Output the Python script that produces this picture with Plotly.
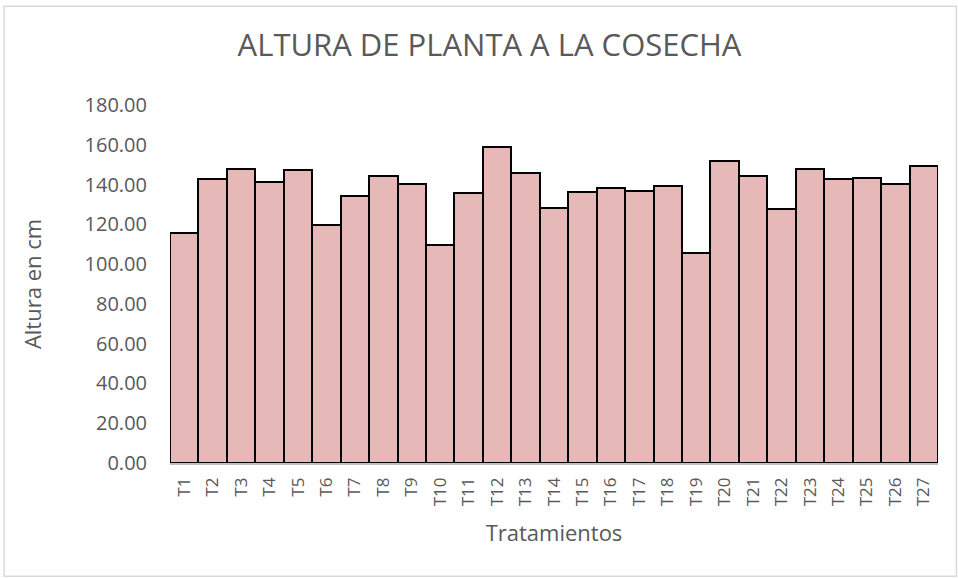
import plotly.graph_objects as go

# Altura de planta a la cosecha por tratamiento (cm)
tratamientos = [f"T{i}" for i in range(1, 28)]
altura_cm = [115.5, 142.8, 147.7, 141.5, 147.2, 119.5, 134.4, 144.5, 140.3,
             109.4, 135.9, 158.8, 145.8, 128.4, 136.3, 138.1, 136.9, 139.4,
             105.7, 151.9, 144.5, 127.7, 148.0, 142.8, 143.2, 140.3, 149.5]
y_ticks = [0, 20, 40, 60, 80, 100, 120, 140, 160, 180]

font_fam = "Open Sans, Liberation Sans, sans-serif"
grey = "#595959"

fig = go.Figure()
fig.add_trace(go.Bar(x=tratamientos, y=altura_cm,
                     marker=dict(color="#E6B8B7", line=dict(color="black", width=2)),
                     hoverinfo="x+y"))

# marco gris claro del área del gráfico
fig.add_shape(type="rect", xref="paper", yref="paper",
              x0=-0.216, x1=1.024, y0=-0.316, y1=1.276,
              line=dict(color="#D9D9D9", width=1.5), fillcolor="rgba(0,0,0,0)", layer="below")

fig.update_layout(
    width=958, height=578,
    margin=dict(l=170, r=20, t=105, b=115, autoexpand=False),
    plot_bgcolor="white", paper_bgcolor="white",
    bargap=0,
    showlegend=False,
    title=dict(text="ALTURA DE PLANTA A LA COSECHA", x=0.511, xanchor="center",
               y=0.922, yanchor="middle",
               font=dict(family=font_fam, size=31, color=grey)),
    font=dict(family=font_fam, color=grey),
)
fig.update_xaxes(title_text="Tratamientos", title_font=dict(size=22, color=grey),
                 title_standoff=20, automargin=False,
                 tickangle=-90, tickfont=dict(size=17, color=grey),
                 ticklabelstandoff=6,
                 showline=True, linecolor="#BFBFBF", linewidth=1.5,
                 ticks="", showgrid=False)
fig.update_yaxes(title_text="Altura en cm", title_font=dict(size=22, color=grey),
                 title_standoff=36, automargin=False,
                 range=[0, 180], tickvals=y_ticks,
                 ticktext=[f"{v:.2f}" for v in y_ticks],
                 tickfont=dict(size=20, color=grey), ticklabelstandoff=22,
                 showgrid=False, zeroline=False, showline=False, ticks="")

fig.write_html("out.html", config={"displayModeBar": False},
               post_script="document.body.style.margin='0';")
